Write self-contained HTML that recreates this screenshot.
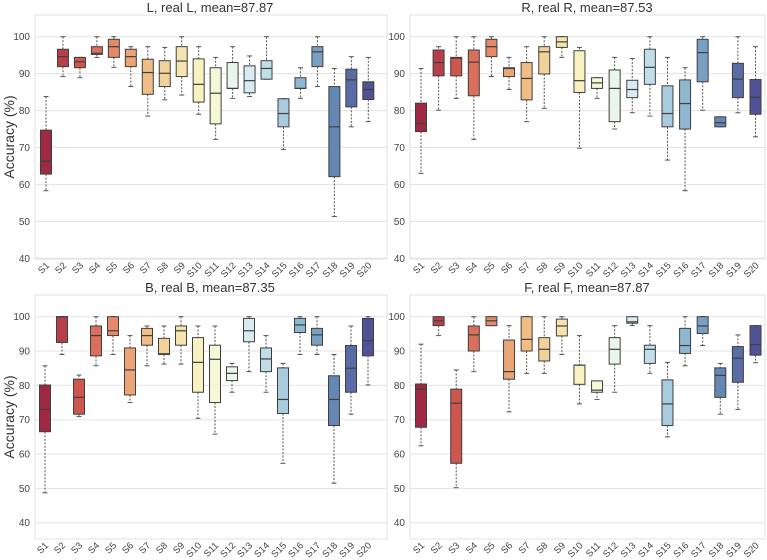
<!DOCTYPE html>
<html><head><meta charset="utf-8"><style>
body{margin:0;background:#fff;}
svg{display:block;font-family:"Liberation Sans",sans-serif;}
</style></head><body>
<svg id="chart" width="767" height="560" viewBox="0 0 767 560" xmlns="http://www.w3.org/2000/svg"></svg>
<script>
const categories = ["S1","S2","S3","S4","S5","S6","S7","S8","S9","S10","S11","S12","S13","S14","S15","S16","S17","S18","S19","S20"];
const yTicks = [40,50,60,70,80,90,100];
const panelTitles = ["L, real L, mean=87.87","R, real R, mean=87.53","B, real B, mean=87.35","F, real F, mean=87.87"];
// each row: [low whisker, Q1, median, Q3, high whisker]
const statsL = [[58.3,62.8,66.3,74.7,83.8],[89.2,91.9,94.6,96.6,100],[88.9,91.6,93.2,94.4,94.4],[94.4,95.2,95.5,97.3,100],[91.7,94.4,97.3,99.3,100],[86.5,91.9,94.6,96.6,97.3],[78.5,84.4,90.3,93.9,97.3],[82.9,86.5,90.1,93.5,97.1],[84.2,89.2,93.4,97.3,100],[79.0,82.3,87.1,94.0,97.3],[72.2,76.4,84.7,91.6,94.4],[83.3,86.0,86.0,93.0,97.3],[83.8,84.8,88.1,92.1,94.8],[88.5,88.5,91.4,93.5,100],[69.5,75.6,79.2,83.2,83.2],[83.3,86.0,86.0,88.9,91.6],[86.5,91.9,95.9,97.3,100],[51.3,62.1,75.6,86.5,91.4],[75.6,81.0,88.3,91.2,94.6],[77.0,83.0,85.7,87.8,94.4]];
const statsR = [[63.0,74.3,76.5,82.0,91.4],[80.1,89.4,93.0,96.4,97.3],[83.3,89.4,94.2,94.4,100],[72.2,84.0,93.1,96.4,100],[89.2,94.6,97.3,99.3,100],[85.7,89.2,91.4,91.6,94.4],[77.0,82.9,88.7,93.0,97.3],[80.6,89.9,95.9,97.3,100],[94.4,97.1,98.6,100,100],[69.8,84.9,88.1,96.2,97.1],[83.3,86.0,87.5,88.9,88.9],[75.0,77.0,86.0,91.0,94.4],[79.4,83.5,85.7,88.2,94.1],[78.5,87.1,91.7,96.6,100],[66.6,75.6,79.2,86.7,94.4],[58.3,75.0,81.9,88.3,91.6],[80.1,87.8,95.7,99.3,100],[75.6,75.6,76.7,78.3,78.3],[79.4,83.5,88.5,92.8,100],[72.9,79.0,83.6,88.4,97.3]];
const statsB = [[48.7,66.5,73.0,80.1,85.7],[89.0,92.5,100,100,100],[70.9,71.6,76.5,81.8,83.0],[85.7,88.6,94.5,97.3,100],[89.0,94.5,95.9,100,100],[75.0,77.2,84.5,90.9,94.5],[85.7,91.7,94.5,96.6,97.3],[86.2,89.0,89.2,93.7,97.3],[86.2,91.7,95.9,97.3,100],[70.4,78.0,86.7,93.9,97.3],[65.8,75.0,87.6,91.7,97.3],[78.0,81.4,83.5,85.4,86.4],[84.0,92.7,95.9,99.5,100],[78.0,84.0,87.7,90.9,94.5],[57.3,71.8,75.9,85.1,86.4],[89.0,95.4,97.6,99.5,100],[89.0,91.7,94.7,96.6,100],[51.5,68.3,75.9,82.8,89.0],[71.6,78.0,85.0,91.6,97.3],[80.1,88.6,93.0,99.5,100]];
const statsF = [[62.4,67.8,78.9,80.4,92.0],[94.5,97.4,98.8,100,100],[50.2,57.3,74.8,78.9,84.5],[84.0,90.0,94.7,97.3,100],[97.4,97.4,98.8,100,100],[72.3,81.8,84.0,93.2,97.4],[83.5,90.0,93.4,100,100],[83.5,87.1,90.5,93.9,100],[89.0,94.4,97.3,99.3,100],[74.6,80.3,85.9,85.9,94.5],[75.9,78.0,78.6,81.3,81.3],[78.0,86.2,90.5,93.9,97.4],[97.4,98.1,98.5,100,100],[83.5,86.4,90.5,91.7,97.4],[65.0,68.3,74.6,81.6,86.7],[85.7,89.3,91.6,96.6,100],[91.6,95.1,97.3,100,100],[71.6,76.5,82.9,85.1,86.4],[73.0,80.9,87.9,91.3,94.7],[86.6,88.8,91.9,97.4,97.4]];
const allStats = [statsL, statsR, statsB, statsF];

const panels = [
  {fl:35,fr:387,ft:15,fb:259,y100:36.7,y40:258.3,c0:46,c1:368.3,tx:210,ty:12,lab:true,tickX:30},
  {fl:410,fr:765,ft:15,fb:259,y100:36.7,y40:258.3,c0:421,c1:755.5,tx:587,ty:12,lab:false,tickX:405},
  {fl:35,fr:387,ft:295,fb:539,y100:316.7,y40:522.7,c0:45,c1:368,tx:210,ty:292,lab:true,tickX:30},
  {fl:410,fr:765,ft:295,fb:539,y100:316.7,y40:522.7,c0:421,c1:755.5,tx:587,ty:292,lab:false,tickX:405}
];

const NS="http://www.w3.org/2000/svg";
const svg=document.getElementById('chart');
function mk(tag,attrs,parent){const e=document.createElementNS(NS,tag);for(const k in attrs)e.setAttribute(k,attrs[k]);(parent||svg).appendChild(e);return e;}

const stops=[[165,0,38],[215,48,39],[244,109,67],[253,174,97],[254,224,144],[255,255,191],[224,243,248],[171,217,233],[116,173,209],[69,117,180],[49,54,149]];
function rdylbu(t){const p=t*10,i=Math.min(9,Math.floor(p)),f=p-i;return stops[i].map((v,k)=>v+(stops[i+1][k]-v)*f);}
function desat(rgb,s){let [r,g,b]=rgb.map(v=>v/255);const mx=Math.max(r,g,b),mn=Math.min(r,g,b),l=(mx+mn)/2;let h=0,sa=0;
 if(mx!==mn){const d=mx-mn;sa=l>0.5?d/(2-mx-mn):d/(mx+mn);if(mx===r)h=((g-b)/d+(g<b?6:0));else if(mx===g)h=(b-r)/d+2;else h=(r-g)/d+4;h/=6;}
 sa*=s;function hue(p,q,t){if(t<0)t+=1;if(t>1)t-=1;if(t<1/6)return p+(q-p)*6*t;if(t<1/2)return q;if(t<2/3)return p+(q-p)*(2/3-t)*6;return p;}
 let out;
 if(sa===0)out=[r,g,b];else{const q=l<0.5?l*(1+sa):l+sa-l*sa,p=2*l-q;out=[hue(p,q,h+1/3),hue(p,q,h),hue(p,q,h-1/3)];}
 out=out.map(v=>Math.round((v*0.9+0.1)*255));
 return `rgb(${out[0]},${out[1]},${out[2]})`;}

panels.forEach((P,pi)=>{
  const g=mk('g',{});
  
  
  const yS=v=>P.y40+(v-40)*(P.y100-P.y40)/60;
  const xS=i=>P.c0+i*(P.c1-P.c0)/(categories.length-1);
  const frame=mk('rect',{x:P.fl,y:P.ft,width:P.fr-P.fl,height:P.fb-P.ft,fill:'#fff',stroke:'#e0e0e0','stroke-width':1},g);
  
  
  yTicks.forEach(t=>{
    const gl=mk('line',{x1:P.fl,x2:P.fr,y1:yS(t),y2:yS(t),stroke:'#e3e3e3','stroke-width':1},g);
    
    
    const tl=mk('text',{x:P.tickX,y:yS(t)+3.5,'text-anchor':'end','font-size':10,fill:'#444'},g);
    tl.textContent=t;
    
    
  });
  const title=mk('text',{x:P.tx,y:P.ty,'text-anchor':'middle','font-size':13,fill:'#333'},g);
  title.textContent=panelTitles[pi];
  
  
  if(P.lab){const cy=(P.ft+P.fb)/2;
    const yl=mk('text',{x:14,y:cy,'text-anchor':'middle','font-size':14,fill:'#333',transform:`rotate(-90 14 ${cy})`},g);
    yl.textContent='Accuracy (%)';
    
    }
  const bw=11, ec='#3f3f3f';
  allStats[pi].forEach((s,i)=>{
    const cx=xS(i),col=desat(rdylbu(i/(categories.length-1)),0.8);
    const bg=mk('g',{},g);
    
    
    mk('line',{x1:cx,x2:cx,y1:yS(s[4]),y2:yS(s[3]),stroke:'#555','stroke-width':1,'stroke-dasharray':'2,1.5'},bg);
    mk('line',{x1:cx,x2:cx,y1:yS(s[1]),y2:yS(s[0]),stroke:'#555','stroke-width':1,'stroke-dasharray':'2,1.5'},bg);
    mk('line',{x1:cx-2.5,x2:cx+2.5,y1:yS(s[4]),y2:yS(s[4]),stroke:'#555','stroke-width':1},bg);
    mk('line',{x1:cx-2.5,x2:cx+2.5,y1:yS(s[0]),y2:yS(s[0]),stroke:'#555','stroke-width':1},bg);
    mk('rect',{x:cx-bw/2,y:yS(s[3]),width:bw,height:Math.max(0.5,yS(s[1])-yS(s[3])),fill:col,stroke:ec,'stroke-width':1},bg);
    mk('line',{x1:cx-bw/2,x2:cx+bw/2,y1:yS(s[2]),y2:yS(s[2]),stroke:ec,'stroke-width':1.2},bg);
    const xl=mk('text',{x:cx+4,y:P.fb+7,'text-anchor':'end','font-size':9.5,fill:'#444',transform:`rotate(-45 ${cx+4} ${P.fb+7})`},g);
    xl.textContent=categories[i];
    
    
  });
});
</script>
</body></html>
